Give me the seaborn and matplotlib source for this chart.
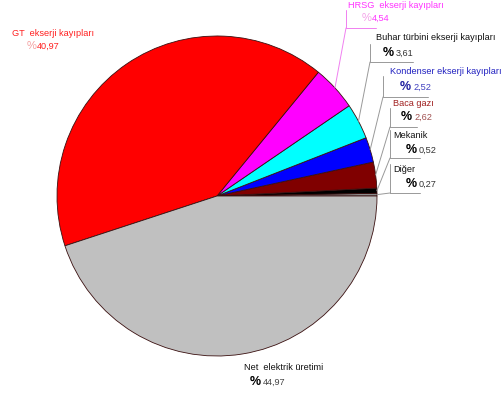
import numpy as np
import matplotlib
matplotlib.use("Agg")
import matplotlib.pyplot as plt
import seaborn as sns

# Exergy distribution (%), counter-clockwise from 3 o'clock
names = ["Diğer", "Mekanik", "Baca gazı", "Kondenser ekserji kayıpları",
         "Buhar türbini ekserji kayıpları", "HRSG  ekserji kayıpları",
         "GT  ekserji kayıpları", "Net  elektrik üretimi"]
values = [0.27, 0.52, 2.62, 2.52, 3.61, 4.54, 40.97, 44.97]
value_labels = ["0,27", "0,52", "2,62", "2,52", "3,61", "4,54", "40,97", "44,97"]
slice_colors = ["#8c8c8c", "#000000", "#800000", "#0000ff",
                "#00ffff", "#ff00ff", "#ff0000", "#c0c0c0"]

sns.set_theme(style="white")
plt.rcParams["font.family"] = ["Liberation Sans", "DejaVu Sans"]

W, H = 502, 398
fig = plt.figure(figsize=(W / 100, H / 100), dpi=100)
ax = fig.add_axes([0, 0, 1, 1])

cx, cy, R = 217, H - 196, 160
wedges, _ = ax.pie(values, colors=slice_colors, startangle=0, counterclock=True,
                   center=(cx, cy), radius=R, frame=True,
                   wedgeprops=dict(edgecolor="#3a1010", linewidth=0.6))
ax.set_xlim(0, W)
ax.set_ylim(0, H)
ax.set_aspect("equal")
ax.axis("off")


def py(y):
    return H - y


fs = 6.6
# label layout: name xy, value xy, colours, bracket (x, top, bottom, right end)
layout = {
    0: dict(nxy=(393, 170), vxy=(406, 184), nc="#111111", vc="#333333", pc="#000000", bold=True,
            br=(390, 164, 193, 420), lc="#999999"),
    1: dict(nxy=(393, 135), vxy=(406, 150), nc="#111111", vc="#333333", pc="#000000", bold=True,
            br=(390, 130, 158, 420), lc="#999999"),
    2: dict(nxy=(393, 103), vxy=(401, 117), nc="#a02020", vc="#a05050", pc="#000000", bold=True,
            br=(390, 108, 127, 417), lc="#999999"),
    3: dict(nxy=(390, 72), vxy=(400, 87), nc="#2020c0", vc="#4040c0", pc="#2020a0", bold=True,
            br=(383, 76, 97, 428), lc="#999999"),
    4: dict(nxy=(376, 38), vxy=(383, 53), nc="#111111", vc="#333333", pc="#000000", bold=True,
            br=(370, 44, 62, 413), lc="#999999"),
    5: dict(nxy=(348, 5), vxy=(362, 18), nc="#ff33ff", vc="#ff33ff", pc="#f4a0e8", bold=False,
            br=(346, 10, 28, 376), lc="#f080f0"),
    6: dict(nxy=(12, 33), vxy=(27, 46), nc="#ff2020", vc="#ff2020", pc="#f4a0a0", bold=False,
            br=None, lc=None),
    7: dict(nxy=(244, 367), vxy=(250, 382), nc="#111111", vc="#444444", pc="#000000", bold=True,
            br=None, lc=None),
}

cum = np.cumsum([0] + values[:-1])
for i, (nm, v) in enumerate(zip(names, values)):
    L = layout[i]
    ax.text(L["nxy"][0], py(L["nxy"][1]), nm, color=L["nc"], fontsize=fs,
            ha="left", va="center")
    if L["bold"]:
        ax.text(L["vxy"][0], py(L["vxy"][1]), "%", color=L["pc"], fontsize=9,
                fontweight="bold", ha="left", va="center")
        ax.text(L["vxy"][0] + 13, py(L["vxy"][1]), value_labels[i], color=L["vc"],
                fontsize=fs, ha="left", va="center")
    else:
        ax.text(L["vxy"][0], py(L["vxy"][1]), "%", color=L["pc"], fontsize=8,
                ha="left", va="center")
        ax.text(L["vxy"][0] + 10, py(L["vxy"][1]), value_labels[i], color=L["vc"],
                fontsize=fs, ha="left", va="center")
    if L["br"] is not None:
        bx, y0, y1, x1 = L["br"]
        mid = np.deg2rad((cum[i] + v / 2) / sum(values) * 360)
        ex, ey = cx + R * np.cos(mid), cy + R * np.sin(mid)
        ax.plot([bx, bx], [py(y0), py(y1)], color=L["lc"], lw=0.7)
        ax.plot([bx, x1], [py(y1), py(y1)], color=L["lc"], lw=0.7)
        ax.plot([bx, ex], [py(y1), ey], color=L["lc"], lw=0.7)

fig.savefig("out.png", dpi=100)
